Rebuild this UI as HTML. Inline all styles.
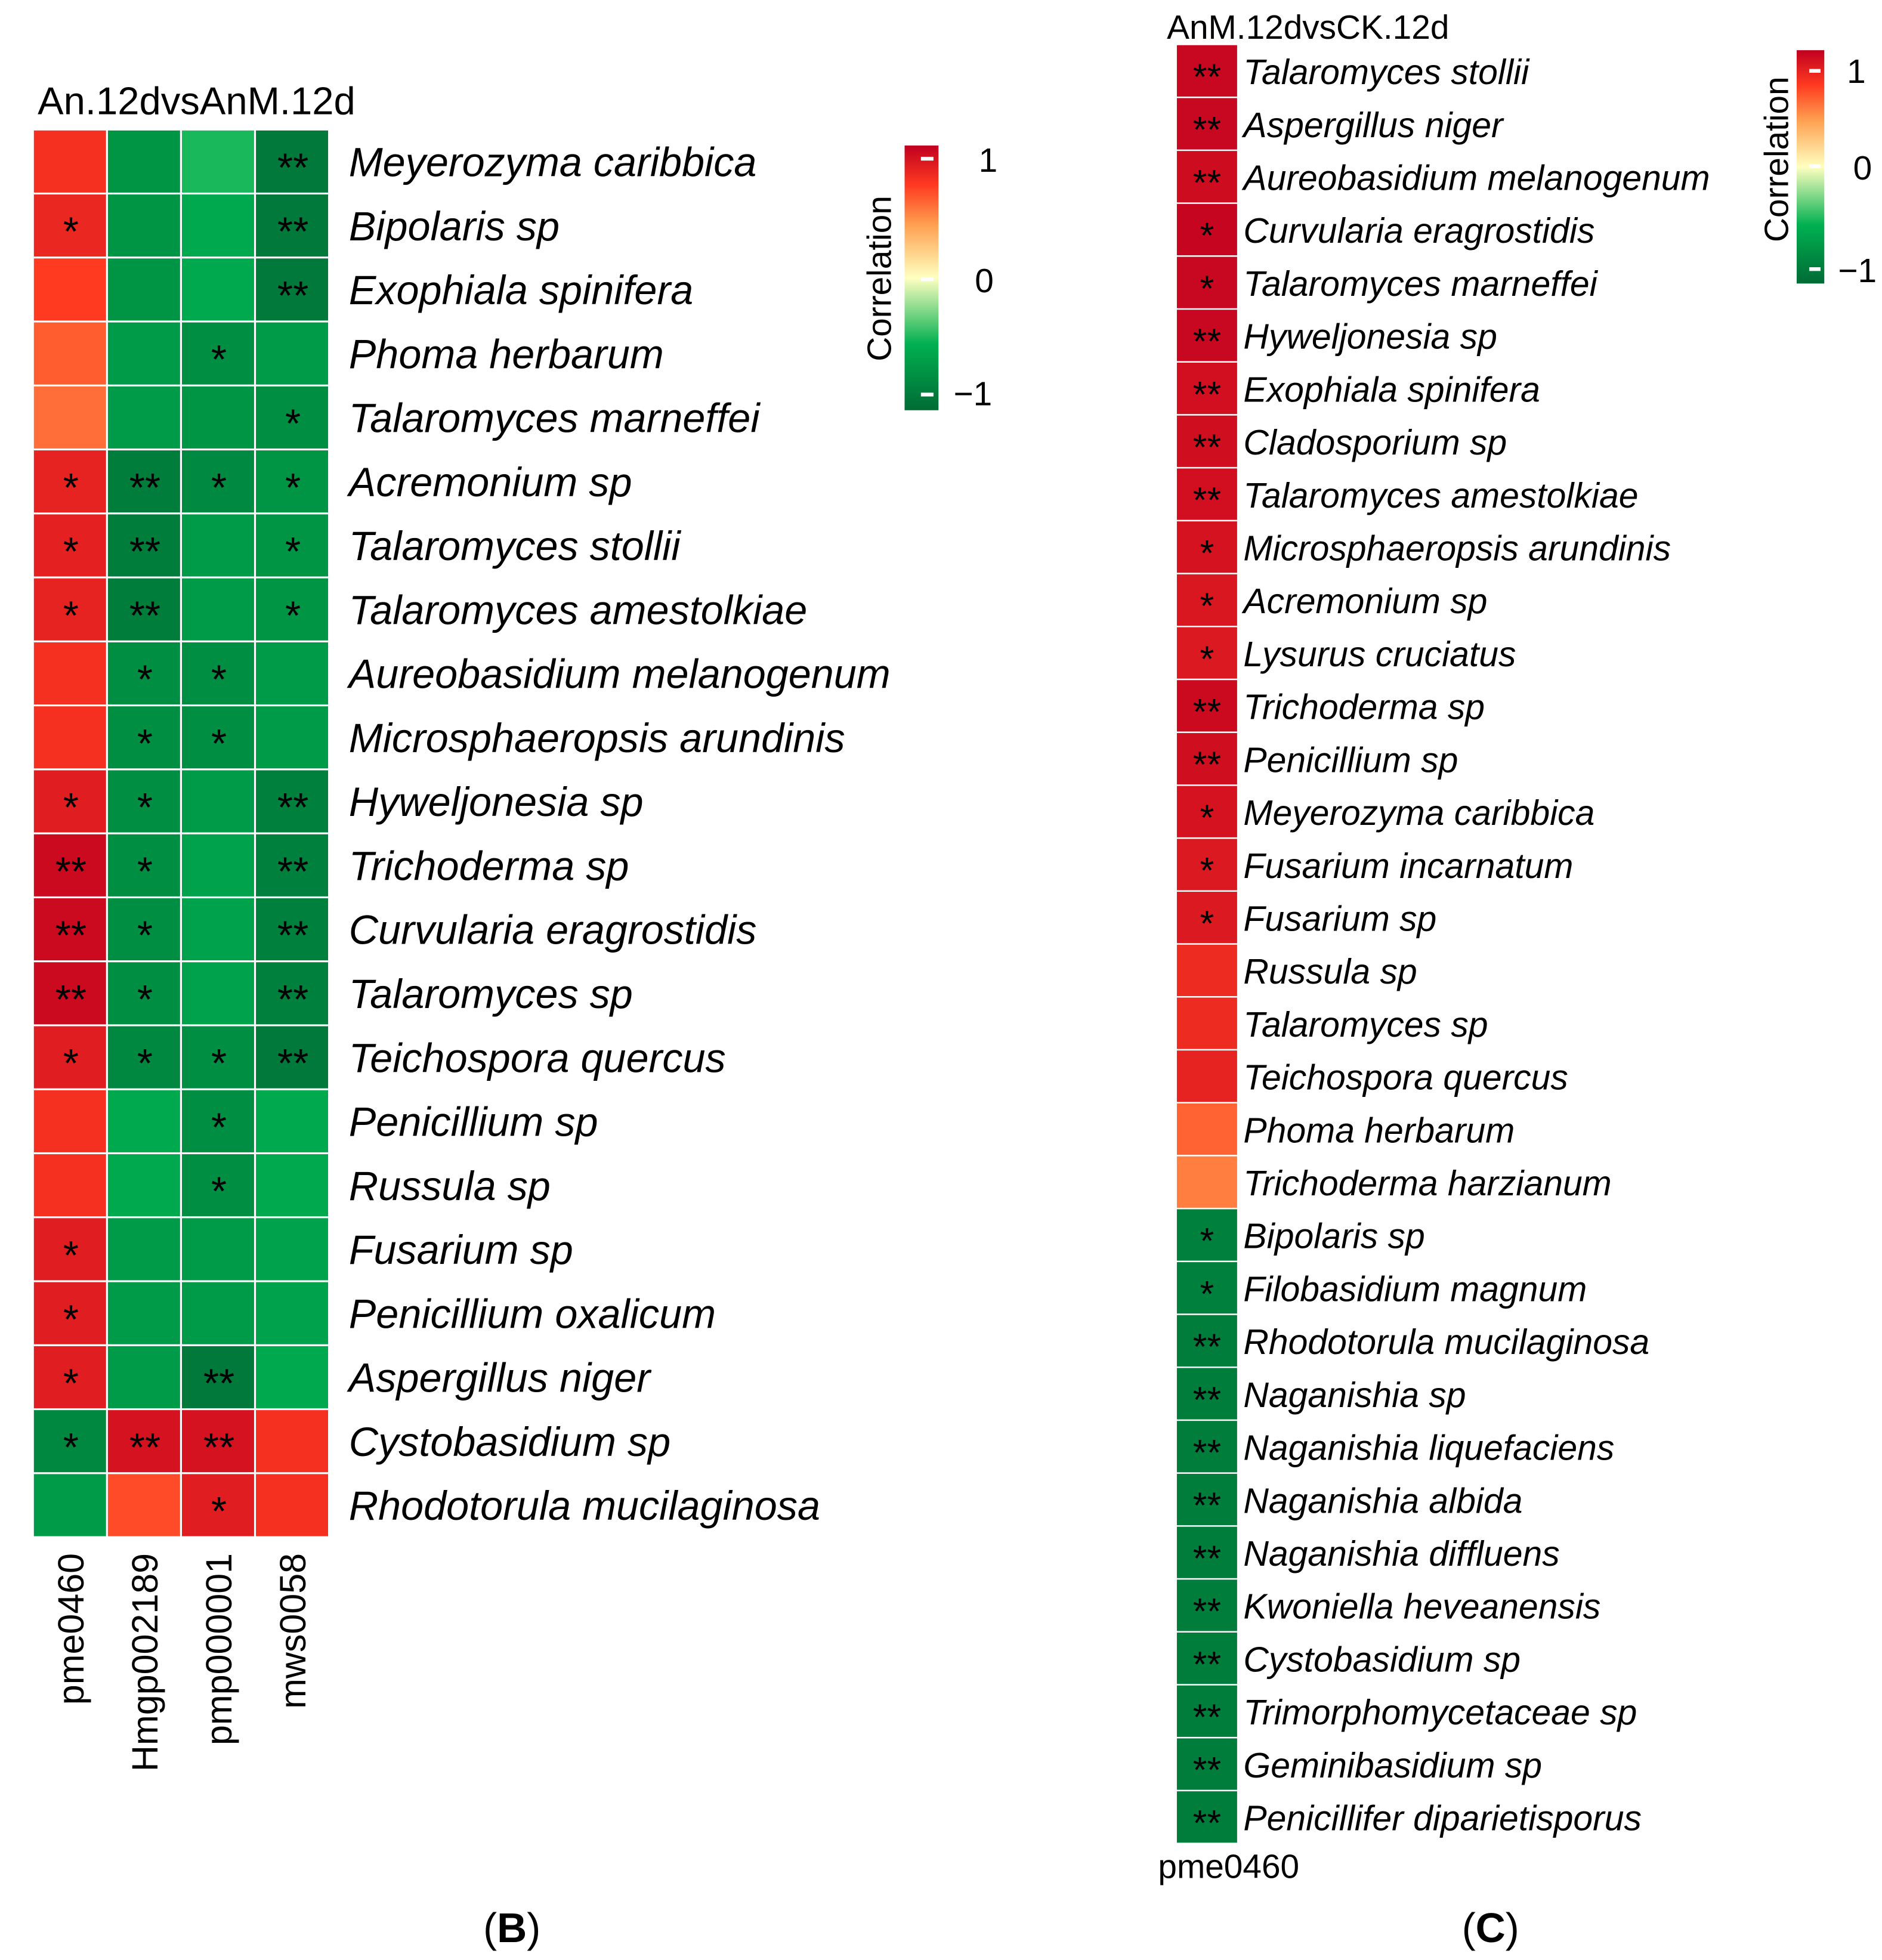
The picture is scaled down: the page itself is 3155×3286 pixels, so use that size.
<!DOCTYPE html>
<html><head><meta charset="utf-8"><style>
html,body{margin:0;padding:0;background:#fff}
svg{display:block}
text{font-family:"Liberation Sans",sans-serif}
</style></head><body>
<svg id="fig" width="3155" height="3286" viewBox="0 0 1500 1562.3" preserveAspectRatio="none" xmlns="http://www.w3.org/2000/svg">
<defs>
<linearGradient id="cb" x1="0" y1="1" x2="0" y2="0">
<stop offset="0" stop-color="#006b35"/><stop offset="0.25" stop-color="#00b050"/><stop offset="0.5" stop-color="#ffffc0"/><stop offset="0.7" stop-color="#ffa050"/><stop offset="0.85" stop-color="#ff3a20"/><stop offset="1" stop-color="#c00020"/>
</linearGradient>
</defs>
<g id="panelB"></g>
<g id="panelC"></g>
<text x="30" y="91" font-size="31">An.12dvsAnM.12d</text>
<text x="930" y="31" font-size="27">AnM.12dvsCK.12d</text>
<g>
<rect x="721" y="116" width="27" height="211" fill="url(#cb)"/>
<rect x="734" y="125" width="10" height="3" fill="#fff"/><rect x="734" y="221" width="10" height="3" fill="#fff"/><rect x="734" y="313" width="10" height="3" fill="#fff"/>
<text x="780" y="137" font-size="27">1</text><text x="777" y="233" font-size="27">0</text><text x="760" y="323" font-size="27">−1</text>
<text transform="translate(710,222) rotate(-90)" text-anchor="middle" font-size="27">Correlation</text>
</g>
<g>
<rect x="1432" y="40" width="22" height="186" fill="url(#cb)"/>
<rect x="1442" y="55" width="9" height="3" fill="#fff"/><rect x="1442" y="131" width="9" height="3" fill="#fff"/><rect x="1442" y="213" width="9" height="3" fill="#fff"/>
<text x="1472" y="66" font-size="27">1</text><text x="1477" y="143" font-size="27">0</text><text x="1465" y="225" font-size="27">−1</text>
<text transform="translate(1425,127) rotate(-90)" text-anchor="middle" font-size="27">Correlation</text>
</g>
<text x="408" y="1548" text-anchor="middle" font-size="33" font-family="Liberation Serif">(<tspan font-weight="bold">B</tspan>)</text>
<text x="1188" y="1548" text-anchor="middle" font-size="33" font-family="Liberation Serif">(<tspan font-weight="bold">C</tspan>)</text>
</svg>
<script>
const bTaxa=["Meyerozyma caribbica","Bipolaris sp","Exophiala spinifera","Phoma herbarum","Talaromyces marneffei","Acremonium sp","Talaromyces stollii","Talaromyces amestolkiae","Aureobasidium melanogenum","Microsphaeropsis arundinis","Hyweljonesia sp","Trichoderma sp","Curvularia eragrostidis","Talaromyces sp","Teichospora quercus","Penicillium sp","Russula sp","Fusarium sp","Penicillium oxalicum","Aspergillus niger","Cystobasidium sp","Rhodotorula mucilaginosa"];
const bMetabolites=["pme0460","Hmgp002189","pmp000001","mws0058"];
const bValues=[[0.75,-0.7,-0.45,-0.9],[0.8,-0.7,-0.55,-0.9],[0.7,-0.7,-0.55,-0.9],[0.6,-0.65,-0.75,-0.65],[0.55,-0.65,-0.7,-0.75],[0.82,-0.88,-0.78,-0.7],[0.83,-0.88,-0.65,-0.7],[0.82,-0.88,-0.65,-0.7],[0.75,-0.75,-0.75,-0.65],[0.75,-0.75,-0.75,-0.65],[0.85,-0.75,-0.65,-0.85],[0.95,-0.75,-0.6,-0.85],[0.95,-0.75,-0.6,-0.85],[0.95,-0.75,-0.6,-0.85],[0.85,-0.8,-0.75,-0.9],[0.75,-0.55,-0.75,-0.55],[0.75,-0.55,-0.75,-0.55],[0.85,-0.65,-0.65,-0.6],[0.85,-0.65,-0.65,-0.6],[0.85,-0.65,-0.9,-0.55],[-0.8,0.9,0.9,0.75],[-0.65,0.65,0.85,0.75]];
const bStars=[["","","","**"],["*","","","**"],["","","","**"],["","","*",""],["","","","*"],["*","**","*","*"],["*","**","","*"],["*","**","","*"],["","*","*",""],["","*","*",""],["*","*","","**"],["**","*","","**"],["**","*","","**"],["**","*","","**"],["*","*","*","**"],["","","*",""],["","","*",""],["*","","",""],["*","","",""],["*","","**",""],["*","**","**",""],["","","*",""]];
const cTaxa=["Talaromyces stollii","Aspergillus niger","Aureobasidium melanogenum","Curvularia eragrostidis","Talaromyces marneffei","Hyweljonesia sp","Exophiala spinifera","Cladosporium sp","Talaromyces amestolkiae","Microsphaeropsis arundinis","Acremonium sp","Lysurus cruciatus","Trichoderma sp","Penicillium sp","Meyerozyma caribbica","Fusarium incarnatum","Fusarium sp","Russula sp","Talaromyces sp","Teichospora quercus","Phoma herbarum","Trichoderma harzianum","Bipolaris sp","Filobasidium magnum","Rhodotorula mucilaginosa","Naganishia sp","Naganishia liquefaciens","Naganishia albida","Naganishia diffluens","Kwoniella heveanensis","Cystobasidium sp","Trimorphomycetaceae sp","Geminibasidium sp","Penicillifer diparietisporus"];
const cValues=[0.96,0.96,0.94,0.97,0.96,0.96,0.92,0.93,0.92,0.9,0.88,0.87,0.95,0.93,0.9,0.87,0.87,0.78,0.78,0.82,0.58,0.5,-0.85,-0.85,-0.88,-0.88,-0.88,-0.88,-0.88,-0.88,-0.88,-0.88,-0.88,-0.88];
const cStars=["**","**","**","*","*","**","**","**","**","*","*","*","**","**","*","*","*","","","","","","*","*","**","**","**","**","**","**","**","**","**","**"];
const cMetabolites=["pme0460"];

const NS="http://www.w3.org/2000/svg";
const stops=[[-1,[0,107,53]],[-0.5,[0,176,80]],[0,[255,255,192]],[0.4,[255,160,80]],[0.7,[255,58,32]],[1,[192,0,32]]];
function colorScale(v){for(let i=1;i<stops.length;i++){if(v<=stops[i][0]){const a=stops[i-1],b=stops[i];const t=(v-a[0])/(b[0]-a[0]);const c=a[1].map((x,k)=>Math.round(x+(b[1][k]-x)*t));return `rgb(${c})`;}}return "rgb(192,0,32)";}
function mk(tag,attrs,parent){const e=document.createElementNS(NS,tag);for(const k in attrs)e.setAttribute(k,attrs[k]);parent.appendChild(e);return e;}
const bTop=104,bBottom=1226,bLeft=27,bRight=263;
function bY(i){return bTop+(bBottom-bTop)*i/bTaxa.length;}
function bX(j){return bLeft+(bRight-bLeft)*j/bMetabolites.length;}
const gB=document.getElementById('panelB');
bValues.forEach((row,i)=>{row.forEach((v,j)=>{
 const r=mk('rect',{x:bX(j),y:bY(i),width:bX(j+1)-bX(j)-1.5,height:bY(i+1)-bY(i)-1.5,fill:colorScale(v)},gB);
 
 
 if(bStars[i][j]){const t=mk('text',{x:(bX(j)+bX(j+1))/2,y:(bY(i)+bY(i+1))/2+15,'text-anchor':'middle','font-size':32},gB);t.textContent=bStars[i][j];
 
 }
});
 const l=mk('text',{x:bRight+15,y:(bY(i)+bY(i+1))/2+11,'font-size':32.5,'font-style':'italic'},gB);l.textContent=bTaxa[i];
 
 
});
bMetabolites.forEach((m,j)=>{const cx=(bX(j)+bX(j+1))/2+10;const t=mk('text',{transform:`translate(${cx},${bBottom+12}) rotate(-90)`,'text-anchor':'end','font-size':29},gB);t.textContent=m;
 
 });
const cTop=36,cBottom=1470,cLeft=938,cRight=986;
function cY(i){return cTop+(cBottom-cTop)*i/cTaxa.length;}
const gC=document.getElementById('panelC');
cValues.forEach((v,i)=>{
 const r=mk('rect',{x:cLeft,y:cY(i),width:cRight-cLeft,height:cY(i+1)-cY(i)-1.2,fill:colorScale(v)},gC);
 
 
 if(cStars[i]){const t=mk('text',{x:(cLeft+cRight)/2,y:(cY(i)+cY(i+1))/2+14,'text-anchor':'middle','font-size':29},gC);t.textContent=cStars[i];
 
 }
 const l=mk('text',{x:cRight+5,y:(cY(i)+cY(i+1))/2+10,'font-size':28,'font-style':'italic'},gC);l.textContent=cTaxa[i];
 
 
});
const cl=mk('text',{x:923,y:1497,'font-size':27},gC);cl.textContent=cMetabolites[0];


</script>
</body></html>
